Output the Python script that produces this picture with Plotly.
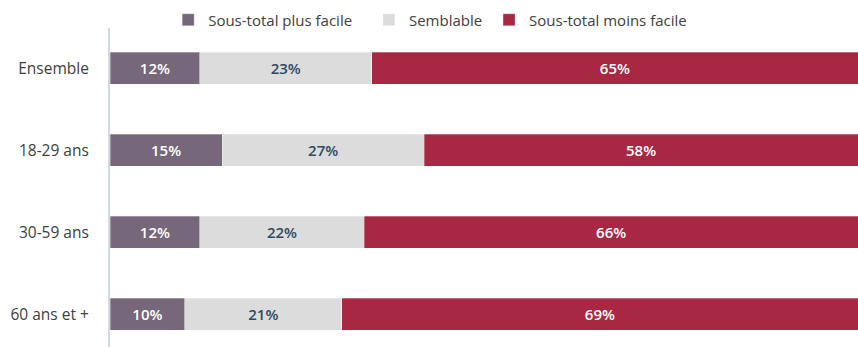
import plotly.graph_objects as go

categories = ["Ensemble", "18-29 ans", "30-59 ans", "60 ans et +"]
plus_facile = [12, 15, 12, 10]
semblable = [23, 27, 22, 21]
moins_facile = [65, 58, 66, 69]

FONT = "Open Sans"

series = [
    ("Sous-total plus facile", plus_facile, "#76687A", "#FFFFFF", "legend", 0.196),
    ("Semblable", semblable, "#DCDCDC", "#2E4A62", "legend2", 0.430),
    ("Sous-total moins facile", moins_facile, "#A82843", "#FFFFFF", "legend3", 0.570),
]

fig = go.Figure()
legends = {}
for name, vals, color, tcolor, leg, lx in series:
    fig.add_trace(go.Bar(
        y=categories,
        x=vals,
        name=name,
        legend=leg,
        orientation="h",
        marker=dict(color=color, line=dict(color="rgba(255,255,255,0.6)", width=0.5)),
        text=[f"{v}%" for v in vals],
        textposition="inside",
        insidetextanchor="middle",
        textfont=dict(family=FONT, size=15, color=tcolor, weight=600),
        width=0.39,
        hoverinfo="skip",
    ))
    legends[leg] = dict(
        xref="container", yref="container",
        x=lx, xanchor="left",
        y=1 - 20 / 347, yanchor="middle",
        orientation="h",
        font=dict(family=FONT, size=15, color="#404040"),
        itemwidth=30,
        bgcolor="rgba(0,0,0,0)",
    )

fig.update_layout(
    barmode="stack",
    width=858,
    height=347,
    margin=dict(l=110, r=0, t=28, b=0, autoexpand=False),
    paper_bgcolor="white",
    plot_bgcolor="white",
    font=dict(family=FONT, size=14, color="#404040"),
    showlegend=True,
    **legends,
)
fig.update_xaxes(range=[0, 100], showticklabels=False, showgrid=False, zeroline=False,
                 showline=False, fixedrange=True)
fig.update_yaxes(categoryorder="array", categoryarray=categories,
                 range=[3.40, -0.49], showgrid=False, zeroline=False,
                 showline=True, linecolor="#D0D8E0", linewidth=2,
                 ticks="", ticklabelstandoff=16,
                 tickfont=dict(family=FONT, size=15.5, color="#404040"))

fig.write_html("out.html")
